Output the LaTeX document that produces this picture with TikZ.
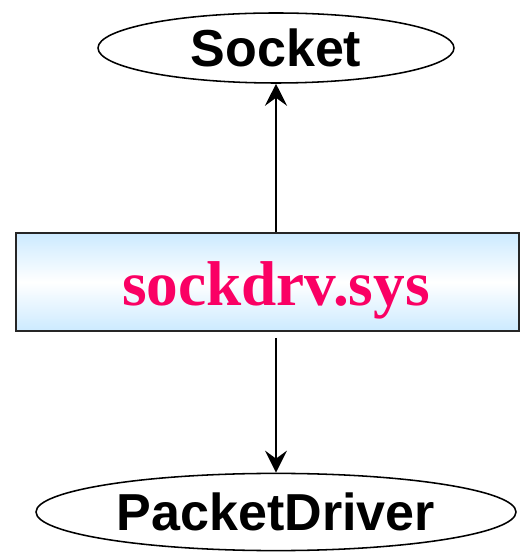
\documentclass[tikz,border=0pt]{standalone}
\usepackage{fontspec}
\setmainfont{Liberation Serif}
\setsansfont{Liberation Sans}
\usetikzlibrary{shapes.geometric,arrows.meta}

\definecolor{drvtext}{RGB}{250,0,100}
\definecolor{drvblue}{RGB}{204,234,255}

\tikzset{
  layer/.style={ellipse, draw, line width=1.1pt, inner sep=0pt,
    font=\sffamily\bfseries\fontsize{37}{40}\selectfont},
  drvbox/.style={draw=black!85, line width=1.4pt, inner sep=0pt,
    top color=drvblue, bottom color=drvblue, middle color=white},
  link/.style={line width=1.3pt, -{Stealth[length=0.55cm, width=0.55cm, inset=0.2cm]}}
}

\begin{document}
\begin{tikzpicture}
    \useasboundingbox (0,0) rectangle (13,13.8);

    \node[layer, minimum width=8.9cm, minimum height=1.75cm] (socket) at (6.9,12.6) {Socket};

    \node[drvbox, minimum width=12.575cm, minimum height=2.45cm] (drv) at (6.6875,6.75) {};
    \node[anchor=base, text=drvtext, font=\bfseries\fontsize{45}{48}\selectfont] (drvname) at (6.9,6.15) {sockdrv.sys};

    \node[layer, minimum width=12cm, minimum height=1.93cm] (packet) at (6.9,1.0) {PacketDriver};

    \draw[link] (drv.north -| socket.south) -- (socket.south);
    \draw[link, shorten <=0.15cm] (drv.south -| packet.north) -- (packet.north);
  \end{tikzpicture}
\end{document}
